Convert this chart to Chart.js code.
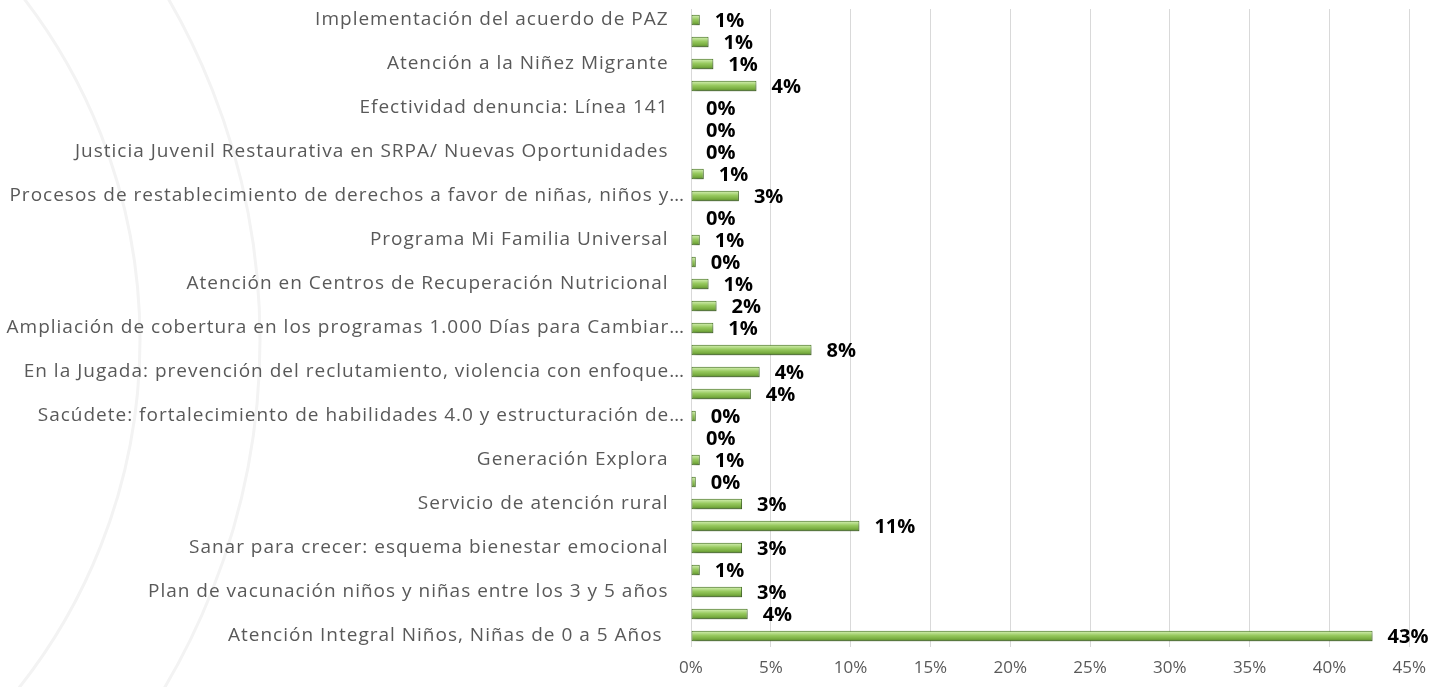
<!DOCTYPE html>
<html>
<head>
<meta charset="utf-8">
<script src="https://cdn.jsdelivr.net/npm/chart.js@4.4.1/dist/chart.umd.min.js"></script>
<style>
  html, body { margin: 0; padding: 0; background: #ffffff; }
  #wrap { width: 1437px; height: 687px; position: relative; }
</style>
</head>
<body>
<div id="wrap"><canvas id="chart"></canvas></div>
<script>
// Categorías (las vacías no tienen etiqueta visible en el original)
const categories = [
  "Implementación del acuerdo de PAZ",
  "",
  "Atención a la Niñez Migrante",
  "",
  "Efectividad denuncia: Línea 141",
  "",
  "Justicia Juvenil Restaurativa en SRPA/ Nuevas Oportunidades",
  "",
  "Procesos de restablecimiento de derechos a favor de niñas, niños y…",
  "",
  "Programa Mi Familia Universal",
  "",
  "Atención en Centros de Recuperación Nutricional",
  "",
  "Ampliación de cobertura en los programas 1.000 Días para Cambiar…",
  "",
  "En la Jugada: prevención del reclutamiento, violencia con enfoque…",
  "",
  "Sacúdete: fortalecimiento de habilidades 4.0 y estructuración de…",
  "",
  "Generación Explora",
  "",
  "Servicio de atención rural",
  "",
  "Sanar para crecer: esquema bienestar emocional",
  "",
  "Plan de vacunación niños y niñas entre los 3 y 5 años",
  "",
  "Atención Integral Niños, Niñas de 0 a 5 Años "
];

// Porcentajes
const values = [
  0.55, 1.1, 1.4, 4.1, 0, 0, 0, 0.8, 3.0, 0,
  0.55, 0.3, 1.1, 1.6, 1.4, 7.55, 4.3, 3.75, 0.3, 0,
  0.55, 0.3, 3.2, 10.55, 3.2, 0.55, 3.2, 3.55, 42.7
];

// Marcas del eje X
const xTicks = [0, 5, 10, 15, 20, 25, 30, 35, 40, 45];

const grayText = "#595959";

// Círculos decorativos de fondo
const bgArcs = {
  id: "bgArcs",
  beforeDraw(chart) {
    const c = chart.ctx;
    c.save();
    c.strokeStyle = "#f3f3f3";
    c.lineWidth = 3;
    [560, 680].forEach((r) => {
      c.beginPath();
      c.arc(-420, 340, r, 0, Math.PI * 2);
      c.stroke();
    });
    c.restore();
  },
};

// Las etiquetas de categoría son más anchas en el original: algo de espaciado solo en el eje Y
const wideYLabels = {
  id: "wideYLabels",
  afterLayout(chart) {
    const y = chart.scales.y;
    if (y._wideWrapped) return;
    const orig = y.drawLabels;
    y.drawLabels = function (area) {
      this.ctx.save();
      this.ctx.letterSpacing = "1px";
      orig.call(this, area);
      this.ctx.restore();
    };
    y._wideWrapped = true;
  },
};

// Sombra debajo de las barras
const barShadow = {
  id: "barShadow",
  beforeDatasetsDraw(chart) {
    const c = chart.ctx;
    c.save();
    c.shadowColor = "rgba(0, 0, 0, 0.3)";
    c.shadowBlur = 4;
    c.shadowOffsetX = 2;
    c.shadowOffsetY = 3;
  },
  afterDatasetsDraw(chart) {
    chart.ctx.restore();
  },
};

// Etiquetas de porcentaje al final de cada barra
const valueLabels = {
  id: "valueLabels",
  afterDatasetsDraw(chart) {
    const c = chart.ctx;
    const meta = chart.getDatasetMeta(0);
    c.save();
    c.font = "bold 20px 'Open Sans'";
    c.fillStyle = "#000000";
    c.textAlign = "left";
    c.textBaseline = "middle";
    meta.data.forEach((bar, i) => {
      const v = chart.data.datasets[0].data[i];
      c.fillText(Math.round(v) + "%", bar.x + 15, bar.y + 1);
    });
    c.restore();
  },
};

function barGradient(context) {
  const chart = context.chart;
  if (!chart.chartArea) return "#8cc04f";
  const y = chart.scales.y.getPixelForValue(context.dataIndex);
  const h = 10.5;
  const g = chart.ctx.createLinearGradient(0, y - h / 2, 0, y + h / 2);
  g.addColorStop(0, "#7aa84a");
  g.addColorStop(0.15, "#c4e59c");
  g.addColorStop(0.45, "#97c95e");
  g.addColorStop(0.8, "#76aa3e");
  g.addColorStop(1, "#4b7a25");
  return g;
}

const ctx = document.getElementById("chart").getContext("2d");
const chart = new Chart(ctx, {
  type: "bar",
  data: {
    labels: categories,
    datasets: [
      {
        data: values,
        backgroundColor: barGradient,
        borderColor: "#4f7d2b",
        borderWidth: 1,
        borderSkipped: false,
        categoryPercentage: 0.5,
        barPercentage: 0.95,
      },
    ],
  },
  options: {
    indexAxis: "y",
    responsive: true,
    maintainAspectRatio: false,
    animation: false,
    layout: { padding: { top: 9, right: 17, bottom: 0, left: 0 } },
    plugins: {
      legend: { display: false },
      tooltip: { enabled: false },
    },
    scales: {
      x: {
        min: 0,
        max: 45,
        afterBuildTicks: (scale) => {
          scale.ticks = xTicks.map((v) => ({ value: v }));
        },
        ticks: {
          callback: (v) => v + "%",
          color: grayText,
          font: { family: "'Open Sans'", size: 17 },
          padding: 11,
          maxRotation: 0,
        },
        grid: { color: "#d9d9d9", lineWidth: 1, drawTicks: false },
        border: { display: false },
        afterFit: (scale) => {
          scale.height = 40;
        },
      },
      y: {
        ticks: {
          autoSkip: false,
          color: grayText,
          font: { family: "'Open Sans'", size: 19 },
          padding: 6,
          // las etiquetas completas quedan algo más a la izquierda que las recortadas
          callback: function (v) {
            const s = this.getLabelForValue(v);
            return s === "" || s.endsWith("…") ? s : s + "\u2002 ";
          },
        },
        grid: { display: false, drawTicks: false },
        border: { display: false },
        afterFit: (scale) => {
          scale.width = 691;
          scale.paddingTop = 0;
          scale.paddingBottom = 0;
        },
      },
    },
  },
  plugins: [bgArcs, wideYLabels, barShadow, valueLabels],
});
chart.draw();
</script>
</body>
</html>
